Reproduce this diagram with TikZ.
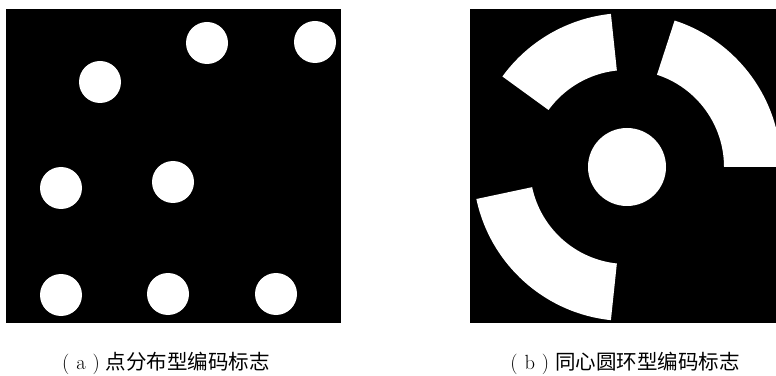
\documentclass[tikz,border=0pt]{standalone}
\usepackage{fontspec}
\newfontfamily\cjk{Noto Sans CJK SC}
\usetikzlibrary{positioning}

\newcommand{\sublabel}[1]{{\rmfamily(\hspace{7pt}#1\hspace{7pt})}\hspace{6pt}}

\begin{document}
\begin{tikzpicture}[x=1pt, y=1pt,
    panel/.style={rectangle, fill=black, inner sep=0pt, anchor=south west},
    dot node/.style={circle, fill=white, minimum size=42pt, inner sep=0pt},
    caption/.style={font=\fontsize{20.5}{20.5}\selectfont, inner sep=0pt}
    ]

    \useasboundingbox (0,0) rectangle (776,375);

    % 点分布型
    \node[panel, minimum width=335pt, minimum height=314pt] (PA) at (6,52) {};

    \node[dot node] (D1) at (207,332) {};
    \node[dot node] (D2) at (315,333) {};
    \node[dot node] (D3) at (100,293) {};
    \node[dot node] (D4) at (61,187) {};
    \node[dot node] (D5) at (173,193) {};
    \node[dot node] (D6) at (61,80) {};
    \node[dot node] (D7) at (168,81) {};
    \node[dot node] (D8) at (276,81) {};

    \node[caption] (CA) at (166,12) {\sublabel{a}{\cjk 点分布型编码标志}};

    % 同心圆环型
    \node[panel, minimum width=306pt, minimum height=314pt] (PB) at (470,52) {};

    \coordinate (O) at (627,208);
    \node[circle, fill=white, minimum size=78pt, inner sep=0pt] (CC) at (O) {};

    \foreach \a/\b in {0/72, 96/144, 192/264}
        \fill[white] (O) ++(\a:97) -- ++(\a:57)
            arc[start angle=\a, end angle=\b, radius=154]
            -- ++(\b+180:57)
            arc[start angle=\b, end angle=\a, radius=97] -- cycle;

    \node[caption] (CB) at (625,12) {\sublabel{b}{\cjk 同心圆环型编码标志}};

\end{tikzpicture}
\end{document}
